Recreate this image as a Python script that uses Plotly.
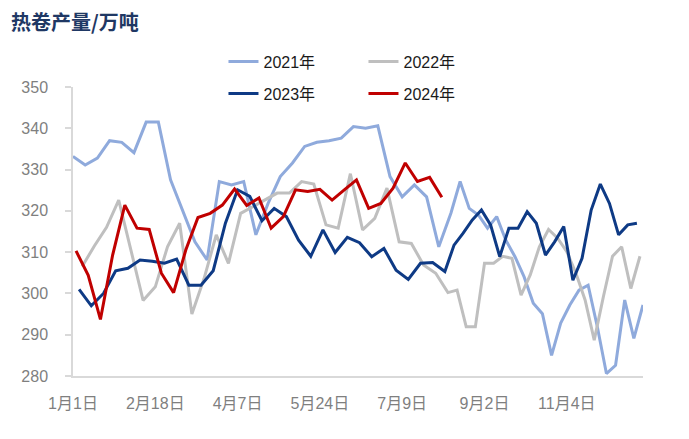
import pandas as pd
import plotly.graph_objects as go

# weekly hot-rolled coil output, 10k tonnes (热卷产量/万吨)
vals_2021 = [333.2, 331.1, 332.8, 337.0, 336.6, 334.1, 341.5, 341.5, 327.5, 320.0,
             312.5, 308.1, 327.1, 326.3, 327.1, 314.2, 321.8, 328.3, 331.6, 335.6,
             336.6, 337.0, 337.6, 340.4, 340.0, 340.6, 328.3, 323.4, 326.3, 323.4,
             311.3, 319.5, 327.1, 320.6, 319.0, 315.8, 318.6, 312.9, 308.9, 304.0,
             297.6, 295.1, 285.0, 292.8, 297.2, 300.8, 302.0, 292.0, 280.6, 282.6,
             298.4, 289.1, 297.2]
vals_2022 = [306.5, 311.5, 316.0, 322.6, 310.5, 298.3, 301.6, 311.3, 317.0, 295.0,
             303.6, 314.2, 307.3, 319.4, 321.0, 322.6, 324.3, 324.3, 327.1, 326.5,
             316.6, 315.8, 329.0, 315.4, 318.2, 325.5, 312.5, 312.1, 306.9, 304.9,
             300.2, 300.8, 291.9, 291.9, 307.3, 307.3, 309.0, 308.5, 299.6, 304.5,
             311.3, 315.5, 313.4, 310.1, 304.9, 298.4, 288.7, 299.2, 309.0, 311.3,
             301.2, 309.0]
vals_2023 = [301.0, 297.0, 300.0, 305.5, 306.1, 308.1, 307.8, 307.3, 308.3, 302.0,
             302.0, 305.5, 317.0, 325.1, 323.5, 317.6, 320.6, 318.6, 312.9, 309.0,
             315.4, 309.9, 313.6, 312.3, 308.9, 310.9, 305.6, 303.4, 307.3, 307.5,
             305.3, 311.7, 314.6, 317.8, 320.2, 316.6, 308.9, 315.8, 315.8, 319.8,
             317.0, 309.3, 312.5, 316.2, 303.2, 308.5, 320.2, 326.5, 321.8, 314.2,
             316.6, 317.0]
vals_2024 = [310.3, 304.4, 293.7, 309.3, 321.4, 315.8, 315.5, 304.9, 300.2, 310.5,
             318.4, 319.4, 321.4, 325.3, 321.3, 323.1, 315.8, 318.6, 325.1, 324.7,
             325.2, 322.6, 325.1, 327.5, 320.6, 321.8, 325.5, 331.6, 327.1, 328.1,
             323.3]

# first release date of each year, weekly after that
first_dates = {"2021": "2021-01-01", "2022": "2022-01-07",
               "2023": "2023-01-05", "2024": "2024-01-04"}
# releases that moved by a day
moved = {"2023-04-06": "2023-04-07", "2024-05-23": "2024-05-24"}

series = [("2021", vals_2021, "#8FAADC"),
          ("2022", vals_2022, "#BFBFBF"),
          ("2023", vals_2023, "#0E3A85"),
          ("2024", vals_2024, "#C00000")]


def month_day(ts):
    return f"{ts.month}月{ts.day}日"


dates = {}
keys = set()
for year, vals, _ in series:
    days = pd.date_range(first_dates[year], periods=len(vals), freq="7D")
    days = [pd.Timestamp(moved.get(d.strftime("%Y-%m-%d"), d)) for d in days]
    dates[year] = days
    keys.update((d.month, d.day) for d in days)

categories = [f"{m}月{d}日" for m, d in sorted(keys)]

font = "Liberation Sans, Arial, Noto Sans CJK SC"
axis_grey = "#D9D9D9"

fig = go.Figure()

for year, vals, colour in series:
    fig.add_trace(go.Scatter(
        x=[month_day(d) for d in dates[year]], y=vals,
        mode="lines", name=f"{year}年",
        line=dict(color=colour, width=3),
        legend="legend" if year in ("2021", "2022") else "legend2",
    ))

legend_style = dict(orientation="h", xanchor="left", yanchor="middle",
                    x=0.264, entrywidth=95, font=dict(size=16, color="#1A1A1A", family=font),
                    bgcolor="rgba(0,0,0,0)")

# the page body adds 8px on the left and top, margins allow for it
fig.update_layout(
    width=689, height=439,
    margin=dict(l=65, r=54, t=79, b=71, autoexpand=False),
    paper_bgcolor="white", plot_bgcolor="white",
    font=dict(family=font),
    title=dict(text="<b>热卷产量/万吨</b>", x=3 / 689, xref="container", xanchor="left",
               y=1 - 15 / 439, yref="container", yanchor="middle",
               font=dict(size=20, color="#1F3864", family="Noto Sans CJK SC")),
    legend=dict(y=1.088, **legend_style),
    legend2=dict(y=0.977, **legend_style),
    xaxis=dict(type="category", categoryorder="array", categoryarray=categories,
               range=[0, len(categories) - 1],
               tickmode="array", tickvals=categories[::27],
               ticks="", showgrid=False, zeroline=False,
               showline=True, linecolor=axis_grey, linewidth=1.5,
               tickfont=dict(size=16, color="#7F7F7F", family=font),
               ticklabelstandoff=12),
    xaxis2=dict(overlaying="x", anchor="y", side="bottom", type="linear",
                range=[0, len(categories) - 1], tickmode="linear", tick0=0, dtick=10,
                ticks="outside", ticklen=6, tickwidth=1.5, tickcolor=axis_grey,
                showticklabels=False, showgrid=False, zeroline=False, showline=False),
    yaxis=dict(range=[280, 350], dtick=10, ticks="outside", ticklen=6,
               tickwidth=1.5, tickcolor=axis_grey,
               showline=True, linecolor=axis_grey, linewidth=1.5,
               showgrid=False, zeroline=False,
               tickfont=dict(size=16, color="#7F7F7F", family=font),
               ticklabelstandoff=14),
)

fig.write_html("out.html")
